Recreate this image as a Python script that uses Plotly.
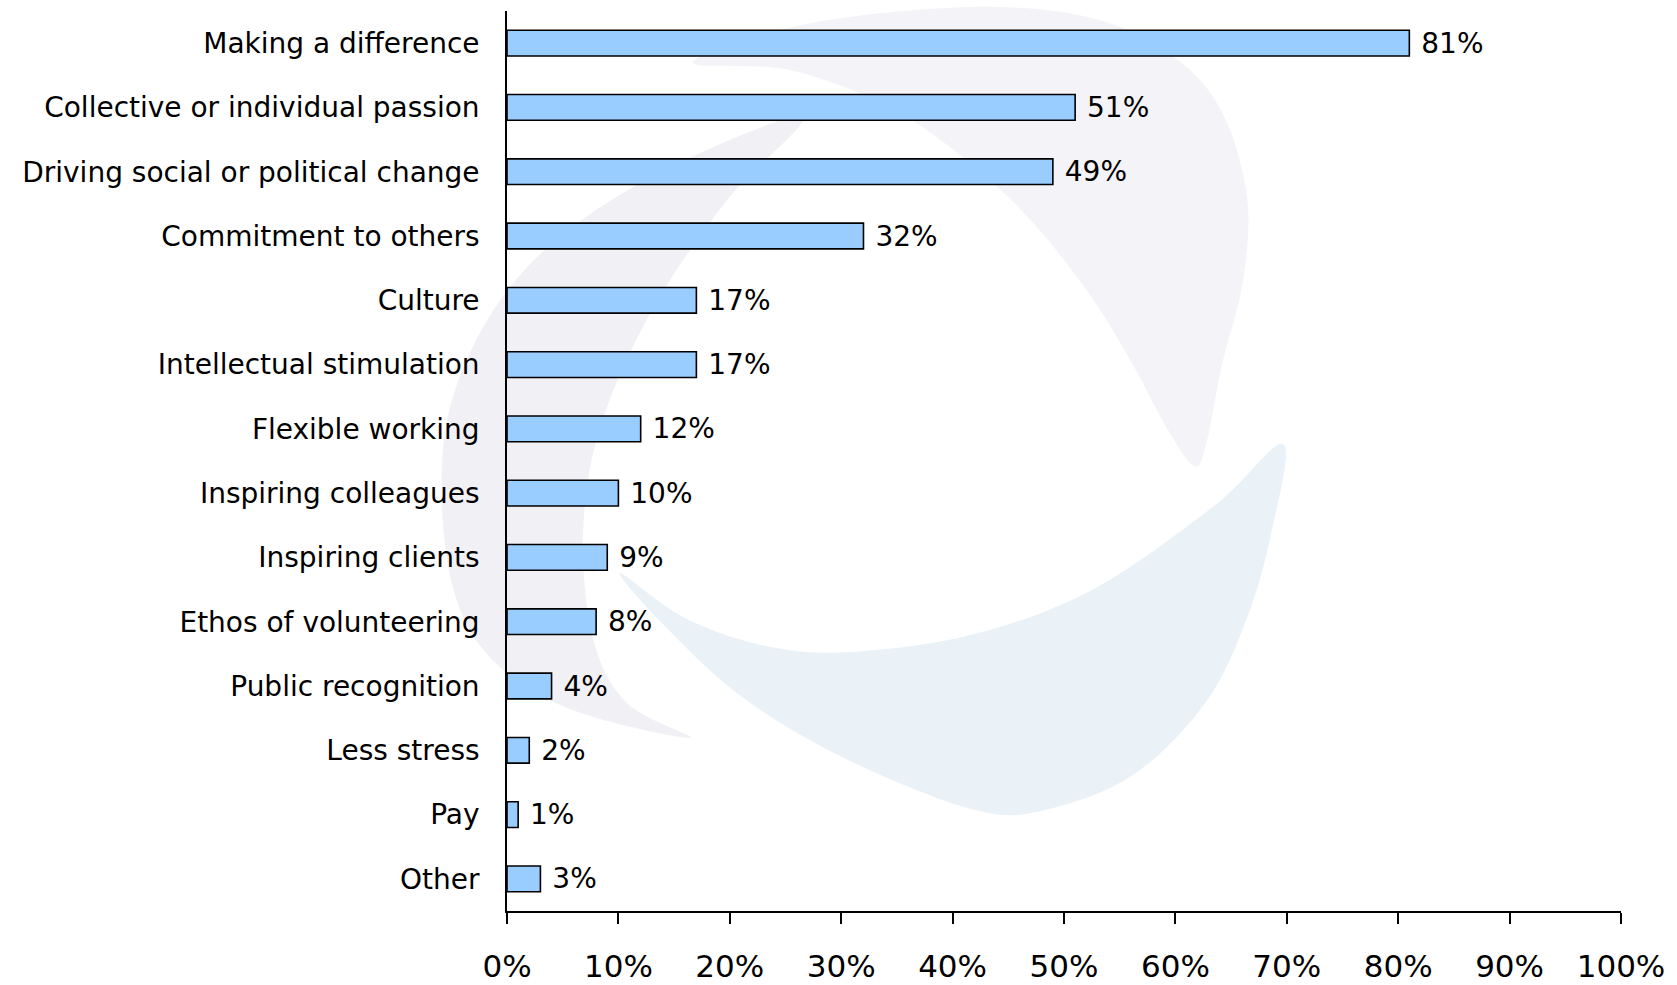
import plotly.graph_objects as go

# Survey: what motivates people to work in the sector
categories = [
    "Making a difference",
    "Collective or individual passion",
    "Driving social or political change",
    "Commitment to others",
    "Culture",
    "Intellectual stimulation",
    "Flexible working",
    "Inspiring colleagues",
    "Inspiring clients",
    "Ethos of volunteering",
    "Public recognition",
    "Less stress",
    "Pay",
    "Other",
]
percentages = [81, 51, 49, 32, 17, 17, 12, 10, 9, 8, 4, 2, 1, 3]
x_ticks = [0, 10, 20, 30, 40, 50, 60, 70, 80, 90, 100]

W, H = 1677, 985
M_L, M_R, M_T, M_B = 507, 56, 11, 74
PW, PH = W - M_L - M_R, H - M_T - M_B


def to_paper(pts):
    """Pixel positions on the page -> paper coordinates of the plot area."""
    return [((x - M_L) / PW, (H - M_B - y) / PH) for x, y in pts]


def smooth_closed_path(pts):
    """Closed Catmull-Rom spline through the points, as an SVG path."""
    p = to_paper(pts)
    n = len(p)
    d = f"M {p[0][0]:.4f},{p[0][1]:.4f}"
    for i in range(n):
        p0, p1, p2, p3 = p[i - 1], p[i], p[(i + 1) % n], p[(i + 2) % n]
        c1 = (p1[0] + (p2[0] - p0[0]) / 6, p1[1] + (p2[1] - p0[1]) / 6)
        c2 = (p2[0] - (p3[0] - p1[0]) / 6, p2[1] - (p3[1] - p1[1]) / 6)
        d += (f" C {c1[0]:.4f},{c1[1]:.4f} {c2[0]:.4f},{c2[1]:.4f}"
              f" {p2[0]:.4f},{p2[1]:.4f}")
    return d + " Z"


# Background logo swooshes
swoosh_upper = [
    (693, 62), (807, 24), (970, 7), (1092, 18), (1174, 57), (1222, 112),
    (1247, 197), (1243, 281), (1222, 365), (1206, 445), (1194, 466),
    (1168, 430), (1133, 365), (1092, 298), (1035, 225), (970, 163),
    (889, 107), (790, 70),
]
swoosh_left = [
    (802, 116), (642, 182), (520, 275), (452, 400), (444, 535), (476, 640),
    (560, 705), (690, 738), (628, 704), (594, 642), (583, 535), (600, 428),
    (652, 310), (727, 200),
]
swoosh_blue = [
    (1283, 444), (1271, 534), (1247, 618), (1206, 702), (1133, 775),
    (1045, 810), (975, 810), (848, 760), (742, 697), (661, 622), (620, 573),
    (685, 618), (766, 646), (848, 652), (970, 635), (1092, 590), (1214, 506),
]

shapes = [
    dict(type="path", path=smooth_closed_path(swoosh_upper), xref="paper",
         yref="paper", fillcolor="#f4f3f7", line=dict(width=0), layer="below"),
    dict(type="path", path=smooth_closed_path(swoosh_left), xref="paper",
         yref="paper", fillcolor="#f1f0f5", line=dict(width=0), layer="below"),
    dict(type="path", path=smooth_closed_path(swoosh_blue), xref="paper",
         yref="paper", fillcolor="#eaf2f8", line=dict(width=0), layer="below"),
]

fig = go.Figure(
    go.Bar(
        x=percentages,
        y=categories,
        orientation="h",
        marker=dict(color="#99ccff", line=dict(color="#000000", width=1.6)),
        text=[f" {v}%" for v in percentages],
        textposition="outside",
        constraintext="none",
        textfont=dict(family="DejaVu Sans", size=28, color="#000000"),
        outsidetextfont=dict(family="DejaVu Sans", size=28, color="#000000"),
        cliponaxis=False,
        width=0.4,
        hoverinfo="skip",
    )
)

fig.update_layout(
    width=W,
    height=H,
    margin=dict(l=M_L, r=M_R, t=M_T, b=M_B, pad=0, autoexpand=False),
    paper_bgcolor="#ffffff",
    plot_bgcolor="rgba(0,0,0,0)",
    showlegend=False,
    shapes=shapes,
    font=dict(family="DejaVu Sans", color="#000000"),
    uniformtext=dict(mode=False),
)

fig.update_xaxes(
    range=[0, 100],
    tickvals=x_ticks,
    ticktext=[f"{t}%" for t in x_ticks],
    showgrid=False,
    zeroline=False,
    showline=True,
    linecolor="#000000",
    linewidth=1.6,
    ticks="outside",
    ticklen=11,
    tickwidth=1.6,
    tickcolor="#000000",
    ticklabelstandoff=16,
    automargin=False,
    tickfont=dict(family="DejaVu Sans", size=31, color="#000000"),
)

fig.update_yaxes(
    categoryorder="array",
    categoryarray=categories,
    autorange="reversed",
    showgrid=False,
    zeroline=False,
    showline=True,
    linecolor="#000000",
    linewidth=1.6,
    ticks="",
    ticklabelstandoff=20,
    automargin=False,
    tickfont=dict(family="DejaVu Sans", size=28, color="#000000"),
)

fig.write_html("out.html")
